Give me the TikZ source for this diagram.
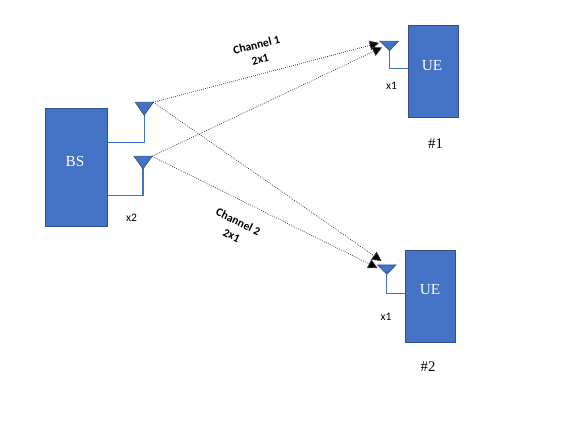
\documentclass[tikz,border=0pt]{standalone}
\usepackage{fontspec}
\setmainfont{Liberation Serif}
\newfontfamily\calib{Carlito}
\usetikzlibrary{arrows.meta}
\definecolor{boxfill}{HTML}{4472C4}
\definecolor{boxedge}{HTML}{2F528F}
\tikzset{
  boxnode/.style={draw=boxedge,fill=boxfill,line width=0.7pt,inner sep=0pt},
  antenna/.style={fill=boxfill,draw=boxedge,line width=0.5pt,line join=miter},
  feed/.style={draw=boxfill,line width=0.8pt},
  link/.style={draw=black!80,line width=0.55pt,densely dotted,-{Triangle[width=7.2pt,length=7pt,fill=black]}},
  boxtext/.style={text=white,font=\fontsize{11.5pt}{13pt}\selectfont,inner sep=0pt},
  smalltext/.style={font=\calib\fontsize{8.6pt}{10pt}\selectfont,inner sep=0pt},
  idtext/.style={font=\fontsize{11pt}{13pt}\selectfont,inner sep=0pt},
  chan/.style={font=\calib\bfseries\fontsize{8.7pt}{11.3pt}\selectfont,inner sep=0pt,align=center}
}
\begin{document}
\begin{tikzpicture}[x=0.75pt,y=-0.75pt]
\useasboundingbox (0,0) rectangle (577,423);
\fill[white] (0,0) rectangle (577,423);
% boxes
\node[boxnode,minimum width=46.9pt,minimum height=88.5pt] (bs) at (76.5,167.3) {};
\node[boxnode,minimum width=37.8pt,minimum height=69pt] (ue1) at (433.5,71.3) {};
\node[boxnode,minimum width=37.5pt,minimum height=69pt] (ue2) at (430.3,296.3) {};
\node[boxtext] (bslabel) at (75,161.5) {BS};
\node[boxtext] (ue1label) at (432,66) {UE};
\node[boxtext] (ue2label) at (430,290) {UE};
% antenna points
\coordinate (a1l) at (135.3,102.3); \coordinate (a1r) at (153.3,102.3); \coordinate (a1t) at (144.2,115.3);
\coordinate (a2l) at (134,156.3); \coordinate (a2r) at (152,156.3); \coordinate (a2t) at (143,169);
\coordinate (a3l) at (380,41.3); \coordinate (a3r) at (398.3,41.3); \coordinate (a3t) at (389.5,50.7);
\coordinate (a4l) at (377.7,265); \coordinate (a4r) at (396,265); \coordinate (a4t) at (386.8,274.3);
% feeds
\coordinate (f1) at (144.2,142.3); \coordinate (f2) at (143,195.3);
\coordinate (f3) at (389.5,68.3); \coordinate (f4) at (386.8,293.3);
\coordinate (b1) at (107.7,142.3); \coordinate (b2) at (107.7,195.3);
\coordinate (u1) at (408.3,68.3); \coordinate (u2) at (405.3,293.3);
\draw[feed] (a1t) -- (f1) -- (b1);
\draw[feed] (a2t) -- (f2) -- (b2);
\draw[feed] (a3t) -- (f3) -- (u1);
\draw[feed] (a4t) -- (f4) -- (u2);
\draw[antenna] (a1l) -- (a1r) -- (a1t) -- cycle;
\draw[antenna] (a2l) -- (a2r) -- (a2t) -- cycle;
\draw[antenna] (a3l) -- (a3r) -- (a3t) -- cycle;
\draw[antenna] (a4l) -- (a4r) -- (a4t) -- cycle;
% links
\coordinate (e1) at (379,43); \coordinate (e2) at (382,47.5);
\coordinate (e3) at (381.5,261); \coordinate (e4) at (377.5,268);
\draw[link] (a1r) -- (e1);
\draw[link] (a2r) -- (e2);
\draw[link] (a1r) -- (e3);
\draw[link] (a2r) -- (e4);
% labels
\node[smalltext] (x2) at (131.5,217.5) {x2};
\node[smalltext] (x1a) at (391.5,86) {x1};
\node[smalltext] (x1b) at (386,317) {x1};
\node[idtext] (n1) at (435.5,143.5) {\#1};
\node[idtext] (n2) at (428,366.5) {\#2};
\node[chan,rotate=14] (c1) at (258.3,52) {Channel 1\\2x1};
\node[chan,rotate=-26] (c2) at (235,228.5) {Channel 2\\2x1};
\end{tikzpicture}
\end{document}
